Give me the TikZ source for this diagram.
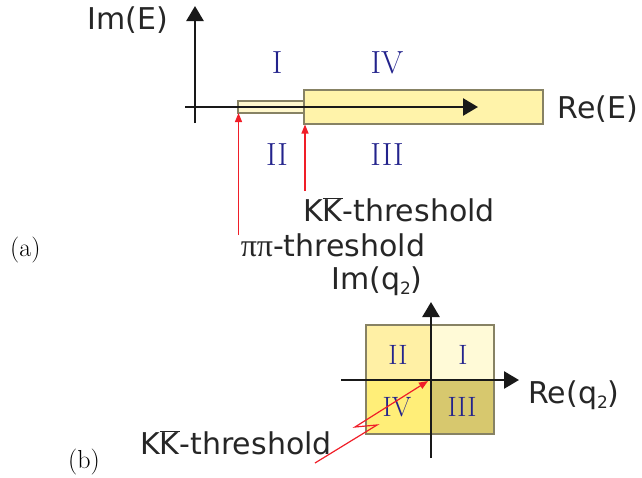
\documentclass[tikz,border=0pt]{standalone}
\usepackage{fontspec}
\setsansfont{DejaVu Sans}
\newfontfamily\greekfont{Liberation Serif}
\usetikzlibrary{arrows.meta}
\newcommand{\subtwo}{\raisebox{-0.18em}{\fontsize{17}{17}\selectfont 2}}
\begin{document}
\begin{tikzpicture}[x=1pt, y=-1pt,
  every node/.style={inner sep=0pt},
  axislabel/.style={anchor=base, font=\fontsize{30}{36}\sffamily, text=black!85},
  numeral/.style={anchor=base, text=numblue},
  tag/.style={anchor=base west, font=\fontsize{26}{30}\selectfont},
  axis/.style={draw=black!90, line width=2.6pt, -{Triangle[length=15pt,width=17pt]}},
  redarrow/.style={draw=thresred, line width=1.2pt, -{Triangle[length=9pt,width=7pt]}},
  region/.style={draw=boxgray, line width=1.3pt}]
\definecolor{numblue}{RGB}{35,35,140}
\definecolor{thresred}{RGB}{240,30,40}
\definecolor{boxgray}{RGB}{135,130,100}
\definecolor{cutfill}{RGB}{255,243,170}
\definecolor{barfill}{RGB}{255,248,205}
\useasboundingbox (0,0) rectangle (642,477);
% (a): energy plane
\filldraw[region, fill=barfill] (238,101) rectangle (304,113);
\filldraw[region, fill=cutfill] (304,90) rectangle (543,124);
\draw[axis] (185,107) -- (478,107);
\draw[axis] (195,123) -- (195,6);
\node[axislabel] (imE) at (128,29) {Im(E)};
\node[axislabel] (reE) at (598,118) {Re(E)};
\foreach \name/\x/\y in {I/277/73, IV/387/73, II/277/165, III/387/165} {
  \node[numeral, font=\fontsize{32}{36}\selectfont] (a\name) at (\x,\y) {\name};
}
% thresholds
\node[axislabel] (kka) at (399,221) {K\(\overline{\mbox{K}}\)-threshold};
\node[axislabel] (pipi) at (333,256) {{\greekfont\fontsize{32}{36}\selectfont ππ}-threshold};
\coordinate (pipitip) at (238.5,113);
\coordinate (pipifoot) at (238.5,235);
\coordinate (kkatip) at (305,124.5);
\coordinate (kkafoot) at (305,191);
\draw[redarrow] (pipifoot) -- (pipitip);
\draw[redarrow] (kkafoot) -- (kkatip);
\node[tag] (taga) at (10,256) {(a)};
% (b): momentum plane
\definecolor{quadI}{RGB}{255,250,215}
\definecolor{quadII}{RGB}{255,240,165}
\definecolor{quadIII}{RGB}{215,200,110}
\definecolor{quadIV}{RGB}{255,238,120}
\foreach \name/\xa/\ya/\xb/\yb in {I/431/325/494/380, II/366/325/431/380,
    III/431/380/494/434, IV/366/380/431/434} {
  \filldraw[region, fill=quad\name] (\xa,\ya) rectangle (\xb,\yb);
}
\foreach \name/\x/\y in {I/463/364, II/398/364, IV/397/416, III/462/416} {
  \node[numeral, font=\fontsize{28}{32}\selectfont] (b\name) at (\x,\y) {\name};
}
\draw[axis] (341,380) -- (519,380);
\draw[axis] (431,458) -- (431,302);
\node[axislabel] (imq) at (377,289) {Im(q\subtwo)};
\node[axislabel] (req) at (574,403) {Re(q\subtwo)};
\node[axislabel] (kkb) at (236,454) {K\(\overline{\mbox{K}}\)-threshold};
\coordinate (kkbfoot) at (315,463);
\coordinate (kkbtip) at (428,381);
\draw[redarrow] (kkbfoot) -- (377,425) -- (355,427) -- (kkbtip);
\node[tag] (tagb) at (68,468) {(b)};
\end{tikzpicture}
\end{document}
